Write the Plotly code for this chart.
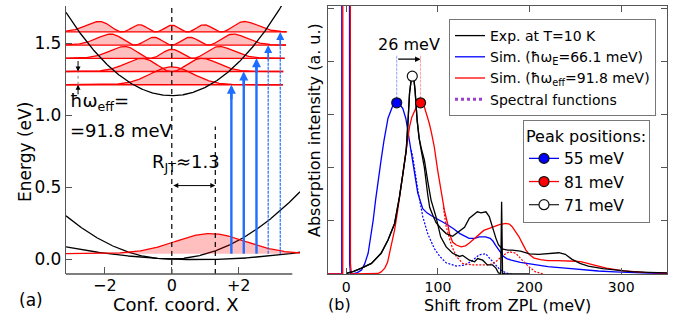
import numpy as np
import plotly.graph_objects as go
from math import factorial
from numpy.polynomial.hermite import hermval

FONT = "DejaVu Sans"

# ---------------- Panel (a): configuration-coordinate diagram ----------------
exc_min_X, exc_min_E, exc_curv = 0.0, 1.134, 0.058      # excited-state parabola
gA_min_X, gA_min_E, gA_curv = -0.05, 0.0, 0.031          # ground-state parabola A
gB_min_X, gB_min_E, gB_curv = 0.81, -0.004, 0.0056       # ground-state parabola B
level_E = [1.21, 1.302, 1.394, 1.486, 1.577]             # vibronic levels (eV)
level_end_X = [3.32, 3.33, 3.37, 3.41, 3.43]
wf_scale_X = 0.9
wf_amp = 0.22
gs_center_X, gs_sigma, gs_base, gs_amp = 1.15, 1.05, 0.037, 0.14
arrow_X = [1.78, 2.15, 2.53, 2.88, 3.24]
arrow_level = [0, 1, 2, 3, 4]
arrow_dashed = [False, False, False, True, True]
R_JT = 1.3
spacing_X = -2.8
a_xticks = [-2, 0, 2]
a_xticktext = ["\u22122", "0", "+2"]
a_yticks = [0, 0.5, 1.0, 1.5]
a_yticktext = ["0.0", "0.5", "1.0", "1.5"]

# ---------------- Panel (b): absorption spectra ----------------
sim_E_x = [-20, -5.0, -4.9, 3.4, 3.6, 4.6, 8, 12, 16.6, 20, 23.8, 26.5, 29.3, 32, 34.7, 38, 41, 45.5, 51, 55,
           58, 61.7, 65, 67, 69, 70.8, 74.4, 78, 83.4, 88, 92.5, 103, 110, 117, 124, 134, 140, 145, 152,
           157, 160, 163, 167, 171, 175, 180, 190, 203, 220, 239, 257, 275, 293, 311, 330, 350]
sim_E_y = [0, 0, 8, 8, 0.2, 0, 0.005, 0.025, 0.075, 0.19, 0.39, 0.68, 1.01, 1.4, 1.77, 2.15, 2.5, 2.93, 3.18, 3.22,
           3.2, 3.11, 2.92, 2.71, 2.52, 2.33, 1.89, 1.52, 1.23, 1.15, 1.1, 1.0, 0.93, 0.85, 0.76, 0.67, 0.67, 0.70, 0.70,
           0.67, 0.62, 0.54, 0.43, 0.34, 0.29, 0.26, 0.22, 0.18, 0.14, 0.11, 0.08, 0.056, 0.04, 0.025, 0.015, 0.01]

sim_eff_x = [-20, -3.9, -3.8, 4.3, 4.5, 5.5, 10, 20, 27, 34.7, 38, 42, 45, 47.3, 50, 52.7, 55.5, 58, 61, 63.6, 66.4,
             69, 71.5, 74.4, 77.5, 80.5, 83, 85.2, 88, 90.6, 93, 96, 99.7, 103, 107, 110.5, 112.7, 116, 120,
             125.3, 130, 134, 140, 145, 150, 156, 162, 167, 174, 178, 181, 185, 188.5, 192, 196, 200, 205,
             212, 220, 230, 240, 250, 257, 265, 275, 284, 293, 302, 311, 325, 350]
sim_eff_y = [0, 0, 8, 8, 0.2, 0, 0, 0, 0.002, 0.01, 0.04, 0.11, 0.22, 0.39, 0.58, 0.83, 1.13, 1.45, 1.8, 2.14, 2.52,
             2.77, 2.95, 3.08, 3.18, 3.22, 3.2, 3.14, 3.0, 2.83, 2.65, 2.39, 1.95, 1.6, 1.2, 0.95, 0.75, 0.6, 0.545,
             0.51, 0.53, 0.58, 0.67, 0.76, 0.82, 0.86, 0.9, 0.93, 0.95, 0.94, 0.89, 0.8, 0.70, 0.58, 0.45, 0.36, 0.3,
             0.27, 0.25, 0.25, 0.25, 0.24, 0.23, 0.2, 0.15, 0.11, 0.08, 0.06, 0.05, 0.03, 0.015]

spec_E_x = [70.8, 72.6, 78, 83.4, 88.8, 96, 102, 109, 120, 130, 138, 145, 152, 159.6, 166.8, 174, 180]
spec_E_y = [2.33, 2.2, 1.58, 1.08, 0.76, 0.48, 0.33, 0.21, 0.15, 0.17, 0.26, 0.36, 0.38, 0.24, 0.1, 0.02, 0.0]

spec_eff_x = [106, 109, 114.5, 120, 127, 138, 149, 156, 163, 172, 178, 185, 192, 199, 206.6, 215]
spec_eff_y = [1.25, 0.89, 0.55, 0.33, 0.2, 0.17, 0.17, 0.17, 0.23, 0.36, 0.42, 0.39, 0.26, 0.14, 0.04, 0.0]

exp1_x = [0, 8, 16.6, 27.4, 38, 45.5, 52.7, 58, 61.8, 65.4, 67.2, 69, 71, 72.6, 74, 75, 77.3, 79.5, 82, 85.2,
          88.8, 91, 94.3, 97.8, 103, 109, 116, 123.5, 129, 134.3, 140, 143, 147, 152.4, 156, 159.6, 163.3,
          166, 170, 176, 181, 190, 200, 210, 221, 232, 239, 246, 255, 264, 280, 293, 311, 330, 350]
exp1_y = [0.01, 0.05, 0.11, 0.2, 0.39, 0.64, 0.95, 1.45, 1.89, 2.33, 2.83, 3.4, 3.68, 3.72, 3.62, 3.46, 2.89, 2.55,
          2.3, 2.0, 1.5, 1.25, 1.11, 0.97, 0.86, 0.76, 0.71, 0.80, 0.88, 1.05, 1.14, 1.17, 1.15, 1.17, 1.08, 0.86,
          0.67, 0.55, 0.47, 0.45, 0.45, 0.43, 0.38, 0.37, 0.38, 0.4, 0.37, 0.28, 0.2, 0.15, 0.1, 0.075, 0.045,
          0.03, 0.02]

exp2_x = [0, 8, 16.6, 27.4, 38, 45.5, 52.7, 58, 61.8, 65.4, 67.2, 69, 71, 72.6, 74, 75, 77.3, 79.5, 82, 85.2,
          88.8, 92.5, 97.8, 103, 109, 116, 123.5, 127, 134.3, 140, 143.4, 148.8, 154, 159.6, 163.3, 166,
          168.5, 169.5, 170.5, 174, 200]
exp2_y = [0.01, 0.05, 0.11, 0.2, 0.39, 0.64, 0.95, 1.45, 1.89, 2.33, 2.83, 3.4, 3.68, 3.72, 3.62, 3.46, 2.89, 2.55,
          2.35, 2.14, 1.75, 1.39, 1.08, 0.70, 0.51, 0.39, 0.33, 0.35, 0.26, 0.23, 0.29, 0.26, 0.17, 0.17, 0.11,
          0.02, 0.01, 1.36, 0.01, 0.0, 0.0]

peak_x = [55, 81, 72]
peak_y = [3.22, 3.22, 3.72]
peak_names = ["55 meV", "81 meV", "71 meV"]
peak_shift_label = "26 meV"
guide_top = 4.12
shift_arrow_y = 4.04

BLUE = "#0000ff"
RED = "#ff0000"
ARROW_BLUE = "#1e6eff"
PINK = "rgba(255,0,0,0.25)"

fig = go.Figure()

# ---- panel (a) curves ----
X = np.linspace(-3.16, 3.83, 500)


def psi2(n, x):
    xi = np.asarray(x) / wf_scale_X
    c = np.zeros(n + 1)
    c[n] = 1
    norm = 1.0 / np.sqrt(2 ** n * factorial(n) * np.sqrt(np.pi))
    return (norm * hermval(xi, c) * np.exp(-xi ** 2 / 2)) ** 2


for n, E in enumerate(level_E):
    xl = np.linspace(-3.16, level_end_X[n], 400)
    fig.add_trace(go.Scatter(x=xl, y=np.full_like(xl, E), mode="lines",
                             line=dict(color=RED, width=1.3), showlegend=False, hoverinfo="skip"))
    fig.add_trace(go.Scatter(x=xl, y=E + wf_amp * psi2(n, xl), mode="lines", fill="tonexty",
                             fillcolor=PINK, line=dict(color=RED, width=1.3), showlegend=False,
                             hoverinfo="skip"))

fig.add_trace(go.Scatter(x=X, y=exc_min_E + exc_curv * (X - exc_min_X) ** 2, mode="lines",
                         line=dict(color="black", width=1.3), showlegend=False, hoverinfo="skip"))
fig.add_trace(go.Scatter(x=X, y=gA_min_E + gA_curv * (X - gA_min_X) ** 2, mode="lines",
                         line=dict(color="black", width=1.3), showlegend=False, hoverinfo="skip"))
fig.add_trace(go.Scatter(x=X, y=gB_min_E + gB_curv * (X - gB_min_X) ** 2, mode="lines",
                         line=dict(color="black", width=1.3), showlegend=False, hoverinfo="skip"))

fig.add_trace(go.Scatter(x=X, y=np.full_like(X, gs_base), mode="lines", line=dict(color=RED, width=0),
                         showlegend=False, hoverinfo="skip"))
fig.add_trace(go.Scatter(x=X, y=gs_base + gs_amp * np.exp(-(X - gs_center_X) ** 2 / (2 * gs_sigma ** 2)),
                         mode="lines", fill="tonexty", fillcolor=PINK, line=dict(color=RED, width=1.3),
                         showlegend=False, hoverinfo="skip"))

# dashed guides
fig.add_trace(go.Scatter(x=[0, 0], y=[-0.104, 1.757], mode="lines",
                         line=dict(color="black", width=1.2, dash="5px,4px"), showlegend=False, hoverinfo="skip"))
fig.add_trace(go.Scatter(x=[R_JT, R_JT], y=[-0.104, 0.92], mode="lines",
                         line=dict(color="black", width=1.2, dash="5px,4px"), showlegend=False, hoverinfo="skip"))

# blue excitation arrows (shafts)
annotations = []
for xa, lv, dsh in zip(arrow_X, arrow_level, arrow_dashed):
    fig.add_trace(go.Scatter(x=[xa, xa], y=[gs_base, level_E[lv] - 0.03], mode="lines",
                             line=dict(color=ARROW_BLUE, width=1.2 if dsh else 2.4,
                                       dash="3px,1px" if dsh else "solid"),
                             showlegend=False, hoverinfo="skip"))
    annotations.append(dict(x=xa, y=level_E[lv], xref="x", yref="y", ax=0, ay=16, axref="pixel",
                            text="", showarrow=True, arrowhead=2, arrowsize=1.0 if dsh else 0.75,
                            arrowwidth=1.6 if dsh else 2.4, arrowcolor=ARROW_BLUE, standoff=0))

# spacing marker
fig.add_trace(go.Scatter(x=[spacing_X, spacing_X], y=[level_E[0], level_E[1]], mode="lines",
                         line=dict(color="#888", width=1, dash="dot"), showlegend=False, hoverinfo="skip"))
annotations.append(dict(x=spacing_X, y=level_E[1], xref="x", yref="y", ax=0, ay=-12, text="",
                        showarrow=True, arrowhead=2, arrowsize=1, arrowwidth=1, arrowcolor="black", standoff=0))
annotations.append(dict(x=spacing_X, y=level_E[0], xref="x", yref="y", ax=0, ay=11, text="",
                        showarrow=True, arrowhead=2, arrowsize=1, arrowwidth=1, arrowcolor="black", standoff=0))
# R_JT double arrow
annotations.append(dict(x=R_JT, y=0.51, xref="x", yref="y", ax=0, ay=0.51, axref="x", ayref="y", text="",
                        showarrow=True, arrowhead=2, arrowside="end+start", arrowsize=1, arrowwidth=1,
                        arrowcolor="black", standoff=0, startstandoff=0))
annotations += [
    dict(x=-3.1, y=1.09, xref="x", yref="y", text="\u0127\u03c9<sub>eff</sub>=", showarrow=False,
         xanchor="left", yanchor="middle", font=dict(size=18)),
    dict(x=-3.1, y=0.895, xref="x", yref="y", text="=91.8 meV", showarrow=False,
         xanchor="left", yanchor="middle", font=dict(size=18)),
    dict(x=0.43, y=0.665, xref="x", yref="y", text="R<sub>JT</sub>\u22481.3", showarrow=False,
         xanchor="center", yanchor="middle", font=dict(size=18)),
]

# ---- panel (b) curves ----
fig.add_trace(go.Scatter(x=sim_E_x, y=sim_E_y, mode="lines", name="Sim. (\u0127\u03c9<sub>E</sub>=66.1 meV)",
                         line=dict(color=BLUE, width=1.3), xaxis="x2", yaxis="y2", legend="legend",
                         legendrank=2))
fig.add_trace(go.Scatter(x=spec_E_x, y=spec_E_y, mode="lines", line=dict(color=BLUE, width=1.2, dash="2px,1.5px"),
                         xaxis="x2", yaxis="y2", showlegend=False))
fig.add_trace(go.Scatter(x=sim_eff_x, y=sim_eff_y, mode="lines",
                         name="Sim. (\u0127\u03c9<sub>eff</sub>=91.8 meV)",
                         line=dict(color=RED, width=1.3), xaxis="x2", yaxis="y2", legend="legend", legendrank=3))
fig.add_trace(go.Scatter(x=spec_eff_x, y=spec_eff_y, mode="lines", line=dict(color=RED, width=1.2, dash="2px,1.5px"),
                         xaxis="x2", yaxis="y2", showlegend=False))
fig.add_trace(go.Scatter(x=exp2_x, y=exp2_y, mode="lines", line=dict(color="black", width=1.3),
                         xaxis="x2", yaxis="y2", showlegend=False))
fig.add_trace(go.Scatter(x=exp1_x, y=exp1_y, mode="lines", name="Exp. at T=10 K",
                         line=dict(color="black", width=1.3), xaxis="x2", yaxis="y2", legend="legend",
                         legendrank=1))
fig.add_trace(go.Scatter(x=[None], y=[None], mode="lines", name="Spectral functions",
                         line=dict(color="#9a3fd0", width=3, dash="dot"), xaxis="x2", yaxis="y2",
                         legend="legend", legendrank=4))

# guides to peaks
fig.add_trace(go.Scatter(x=[peak_x[0], peak_x[0]], y=[peak_y[0], guide_top], mode="lines",
                         line=dict(color="#9f9fff", width=1, dash="3px,1px"), xaxis="x2", yaxis="y2",
                         showlegend=False))
fig.add_trace(go.Scatter(x=[peak_x[1], peak_x[1]], y=[peak_y[1], guide_top], mode="lines",
                         line=dict(color="#ff9f9f", width=1, dash="3px,1px"), xaxis="x2", yaxis="y2",
                         showlegend=False))
annotations.append(dict(x=peak_x[1], y=shift_arrow_y, xref="x2", yref="y2", ax=peak_x[0], ay=shift_arrow_y,
                        axref="x2", ayref="y2", text="", showarrow=True, arrowhead=2, arrowsize=1,
                        arrowwidth=1.1, arrowcolor="black", standoff=0))
annotations.append(dict(x=(peak_x[0] + peak_x[1]) / 2, y=4.32, xref="x2", yref="y2", text=peak_shift_label,
                        showarrow=False, xanchor="center", yanchor="middle", font=dict(size=16)))

mk_fill = [BLUE, RED, "white"]
mk_line = [BLUE, RED, "#333333"]
for i in range(3):
    fig.add_trace(go.Scatter(x=[peak_x[i]], y=[peak_y[i]], mode="lines+markers", name=peak_names[i],
                             marker=dict(color=mk_fill[i], size=10, line=dict(color="#111111", width=1.2)),
                             line=dict(color=mk_line[i], width=1.3), xaxis="x2", yaxis="y2",
                             legend="legend2", legendrank=i + 1))

# axis titles & panel labels
def lab(xp, yp, text, size, angle=0):
    return dict(x=xp / 684, y=1 - yp / 320, xref="paper", yref="paper", text=text, textangle=angle,
                showarrow=False, xanchor="center", yanchor="middle", font=dict(size=size))


annotations += [
    lab(25, 152, "Energy (eV)", 17, -90),
    lab(176, 304, "Conf. coord. X", 18),
    lab(31, 300, "(a)", 17),
    lab(314, 130, "Absorption intensity (a. u.)", 16, -90),
    lab(507, 305, "Shift from ZPL (meV)", 16),
    lab(339, 304, "(b)", 16),
]

AX = "#555555"
ydom = [1 - 274 / 320, 1 - 6 / 320]
fig.update_layout(
    width=684, height=320, margin=dict(l=0, r=0, t=0, b=0),
    paper_bgcolor="white", plot_bgcolor="white",
    font=dict(family=FONT, color="black", size=16),
    xaxis=dict(domain=[66 / 684, 300 / 684], range=[-3.16, 3.83], showgrid=False, zeroline=False,
               showline=False, ticks="inside", ticklen=7, tickcolor=AX, tickwidth=1.2,
               tickvals=a_xticks, ticktext=a_xticktext, tickfont=dict(size=16), anchor="y"),
    yaxis=dict(domain=ydom, range=[-0.104, 1.757], showgrid=False, zeroline=False, showline=True,
               linecolor=AX, linewidth=1.3, ticks="inside", ticklen=6, tickcolor=AX, tickwidth=1.2,
               tickvals=a_yticks, ticktext=a_yticktext, tickfont=dict(size=17), anchor="x"),
    xaxis2=dict(domain=[328 / 684, 667 / 684], range=[-20, 350], showgrid=False, zeroline=False,
                showline=True, mirror="ticks", linecolor=AX, linewidth=1.3, ticks="inside", ticklen=6,
                tickcolor=AX, tickwidth=1.2, tickvals=[0, 100, 200, 300], tickfont=dict(size=14),
                anchor="y2"),
    yaxis2=dict(domain=ydom, range=[0, 5.04], showgrid=False, zeroline=False, showline=True,
                mirror="ticks", linecolor=AX, linewidth=1.3, ticks="inside", ticklen=6, tickcolor=AX,
                tickwidth=1.2, tickvals=[0, 1, 2, 3, 4, 5], showticklabels=False, anchor="x2"),
    legend=dict(x=449 / 684, y=1 - 19 / 320, xanchor="left", yanchor="top", bgcolor="white",
                bordercolor="#777777", borderwidth=1, font=dict(size=14), itemwidth=30,
                traceorder="normal"),
    legend2=dict(x=523 / 684, y=1 - 120 / 320, xanchor="left", yanchor="top", bgcolor="white",
                 bordercolor="#777777", borderwidth=1, font=dict(size=15.5), itemwidth=30,
                 title=dict(text="Peak positions:", font=dict(size=16))),
    annotations=annotations,
    shapes=[dict(type="line", xref="x", yref="y domain", x0=-3.16, x1=3.6, y0=0, y1=0,
                 line=dict(color=AX, width=1.3))],
    showlegend=True,
)

fig.write_html("out.html")
